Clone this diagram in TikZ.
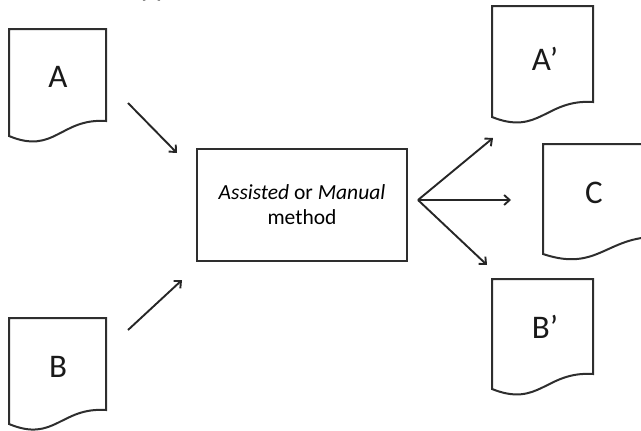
\documentclass[tikz,border=0pt]{standalone}
\usepackage{fontspec}
\setmainfont{Carlito}
\usetikzlibrary{arrows.meta}
\newcommand\mydocshape[5]{%
  \draw[docline] ({#1},{#2+#5}) -- ({#1},{#2}) -- ({#1+#3},{#2}) -- ({#1+#3},{#2+#4})
    .. controls ({#1+0.53*#3},{#2+#4-3}) and ({#1+0.47*#3},{#2+#5+19}) .. ({#1},{#2+#5}) -- cycle;}
\begin{document}
\begin{tikzpicture}[x=1pt,y=-1pt,
  docline/.style={line width=2pt, draw=black!82, line join=miter},
  lbl/.style={font=\fontsize{33}{36}\selectfont, text=black!90, inner sep=0pt},
  arr/.style={line width=1.9pt, draw=black!85, -{Straight Barb[length=5.5pt,width=10pt]}},
  methodbox/.style={draw=black!82, line width=2pt, minimum width=210pt, minimum height=112pt,
    align=center, font=\fontsize{21.5}{25}\selectfont, inner sep=0pt}]
\useasboundingbox (0,0) rectangle (641,431);
\clip (0,0) rectangle (641,431);
% cut-off title fragment
\node[anchor=base west, font=\fontsize{28}{30}\selectfont, inner sep=0pt, text=black!85] (ttl) at (141,-3) {pp};
% documents
\mydocshape{9}{29}{97}{92}{107}
\node[lbl] (A) at (58,77) {A};
\mydocshape{9}{318}{97}{92}{106}
\node[lbl] (B) at (58,367) {B};
\mydocshape{492}{6}{101}{96}{111}
\node[lbl] (Ap) at (545,59) {A’};
\mydocshape{543}{144}{120}{93}{110}
\node[lbl] (C) at (594,193) {C};
\mydocshape{492}{279}{101}{95}{110}
\node[lbl] (Bp) at (545,327) {B’};
% method box
\node[methodbox] (m) at (302,205) {\textit{Assisted} or \textit{Manual}\\method};
% arrows
\coordinate (a1) at (128,103);
\coordinate (a2) at (177,153);
\coordinate (b1) at (128,330);
\coordinate (b2) at (182,280);
\coordinate (o) at (418,200);
\coordinate (t1) at (493,138);
\coordinate (t2) at (511,200);
\coordinate (t3) at (487,265);
\draw[arr] (a1) -- (a2);
\draw[arr] (b1) -- (b2);
\draw[arr] (o) -- (t1);
\draw[arr] (o) -- (t2);
\draw[arr] (o) -- (t3);
\end{tikzpicture}
\end{document}
